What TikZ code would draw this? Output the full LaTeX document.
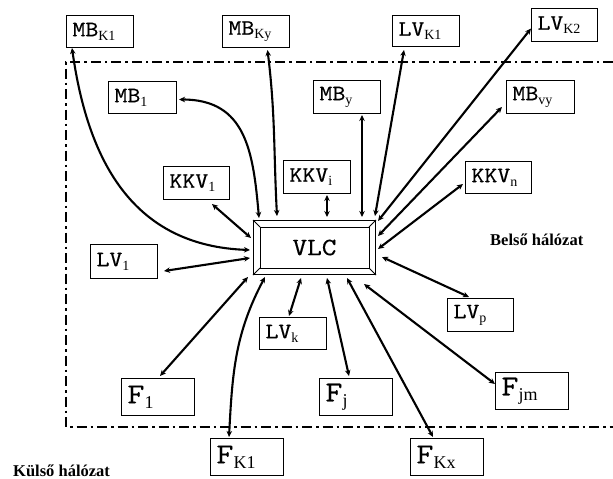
\documentclass[tikz,border=0pt]{standalone}
\usepackage{fontspec}
\newfontfamily\boxfont{lmmono10-regular}[Extension=.otf, FakeStretch=1.12, FakeBold=0.4]
\newfontfamily\subfont{Liberation Serif}
\usetikzlibrary{arrows.meta,calc}
\newcommand\lsub[1]{\raisebox{-4pt}{\fontsize{14}{14}\selectfont\subfont #1}}
\newcommand\fsub[1]{\raisebox{-5pt}{\fontsize{18}{18}\selectfont\subfont #1}}
\tikzset{
  box/.style={draw, line width=1pt, anchor=north west, inner xsep=6pt, inner ysep=0pt,
    align=left, font=\boxfont\fontsize{22}{22}\selectfont},
  fbox/.style={box, font=\boxfont\fontsize{29}{29}\selectfont, text width=61pt, minimum height=37pt},
  conn/.style={line width=2.1pt, {Stealth[length=6pt,width=5.5pt]}-{Stealth[length=6pt,width=5.5pt]}},
  frame/.style={line width=2.5pt, dash pattern=on 10pt off 4pt on 2.5pt off 4pt},
  lbl/.style={anchor=base west, inner sep=0pt, font=\subfont\bfseries\fontsize{16.5}{16.5}\selectfont}
}
\begin{document}
\begin{tikzpicture}[x=1pt,y=1pt]
\useasboundingbox (0,0) rectangle (613,-479);
% frame
\draw[frame] (613,-62) -- (66,-62) -- (66,-427) -- (613,-427);
% boxes
\node[box, text width=55pt, minimum height=32pt] (mbk1) at (66,-15) {MB\lsub{K1}};
\node[box, text width=55pt, minimum height=32pt] (mbky) at (222,-15) {MB\lsub{Ky}};
\node[box, text width=55pt, minimum height=31pt] (lvk1) at (392,-15) {LV\lsub{K1}};
\node[box, text width=54pt, minimum height=33pt] (lvk2) at (531,-8) {LV\lsub{K2}};
\node[box, text width=56pt, minimum height=32pt] (mb1) at (108,-81) {MB\lsub{1}};
\node[box, text width=55pt, minimum height=33pt] (mby) at (313,-80) {MB\lsub{y}};
\node[box, text width=56pt, minimum height=33pt] (mbvy) at (506,-80) {MB\lsub{vy}};
\node[box, text width=54pt, minimum height=33pt] (kkv1) at (163,-166) {KKV\lsub{1}};
\node[box, text width=55pt, minimum height=33pt] (kkvi) at (283,-160) {KKV\lsub{i}};
\node[box, text width=54pt, minimum height=32pt] (kkvn) at (465,-161) {KKV\lsub{n}};
\node[box, text width=55pt, minimum height=34pt] (lv1) at (90,-244) {LV\lsub{1}};
\node[box, text width=55pt, minimum height=32pt] (lvk) at (259,-317) {LV\lsub{k}};
\node[box, text width=54pt, minimum height=33pt] (lvp) at (447,-298) {LV\lsub{p}};
\node[fbox] (f1) at (121,-378) {F\fsub{1}};
\node[fbox] (fj) at (319,-378) {F\fsub{j}};
\node[fbox] (fjm) at (495,-372) {F\fsub{jm}};
\node[fbox] (fk1) at (210,-438) {F\fsub{K1}};
\node[fbox] (fkx) at (410,-438) {F\fsub{Kx}};
% VLC
\node[draw, line width=1pt, anchor=north west, minimum width=122pt, minimum height=54pt,
  inner sep=0pt, font=\boxfont\fontsize{25}{25}\selectfont] (vlc) at (253,-220) {VLC};
\draw[line width=1pt] ($(vlc.north west)+(7,-7)$) rectangle ($(vlc.south east)+(-7,7)$);
\draw[line width=0.8pt] (vlc.north west) -- ++(7,-7) (vlc.north east) -- ++(-7,-7)
  (vlc.south west) -- ++(7,7) (vlc.south east) -- ++(-7,7);
% labels
\node[lbl] (belso) at (490,-245) {Belső hálózat};
\node[lbl] (kulso) at (13,-476) {Külső hálózat};
% connectors
\draw[conn] ($(mbk1.south west)+(6,0)$) to[out=-82,in=178,looseness=1.1] ($(vlc.north west)+(-3,-30)$);
\draw[conn] ($(mb1.east)+(2,-2)$) to[out=0,in=95,looseness=1.2] ($(vlc.north west)+(6,2)$);
\draw[conn] ($(mbky.south)+(11.5,-2)$) to[out=-83,in=93] ($(vlc.north west)+(24,4)$);
\draw[conn] ($(mby.south west)+(49,-1)$) -- ($(vlc.north west)+(109,3)$);
\draw[conn] ($(kkvi.south west)+(44,-1)$) -- ($(vlc.north west)+(74,3)$);
\draw[conn] ($(lvk1.south west)+(12,-3)$) -- ($(vlc.north east)+(-1,4)$);
\draw[conn] ($(lvk2.west)+(0,-3.5)$) -- ($(vlc.north east)+(2,-1)$);
\draw[conn] ($(mbvy.south west)+(-4,7)$) -- ($(vlc.north east)+(2,-16)$);
\draw[conn] ($(kkvn.south west)+(-2,10)$) -- ($(vlc.north east)+(2,-29)$);
\draw[conn] ($(lvp.north west)+(22,1)$) -- ($(vlc.north east)+(6,-37)$);
\draw[conn] ($(fjm.north west)+(0,-12)$) -- ($(vlc.south east)+(-12,-9)$);
\draw[conn] ($(fkx.north west)+(23,1)$) -- ($(vlc.south east)+(-29,-3)$);
\draw[conn] ($(fj.north west)+(30,2)$) -- ($(vlc.south west)+(74,-3)$);
\draw[conn] ($(lvk.north west)+(30,1)$) -- ($(vlc.south west)+(48,-3)$);
\draw[conn] ($(fk1.north west)+(19,1)$) to[out=87,in=-118] ($(vlc.south west)+(12,-2)$);
\draw[conn] ($(f1.north west)+(39,2)$) -- ($(vlc.south west)+(-5,-2)$);
\draw[conn] ($(lv1.south east)+(6,8)$) -- ($(vlc.south west)+(-3,17)$);
\draw[conn] ($(kkv1.south west)+(49,-4)$) -- ($(vlc.north west)+(-2,-18)$);
\end{tikzpicture}
\end{document}
